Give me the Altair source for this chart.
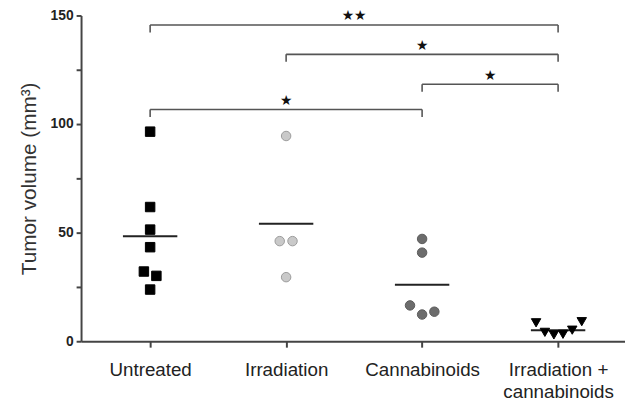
import altair as alt
import pandas as pd

# ---- data ----
categories = ["Untreated", "Irradiation", "Cannabinoids", "Irradiation + cannabinoids"]
label_lines = [["Untreated"], ["Irradiation"], ["Cannabinoids"], ["Irradiation +", "cannabinoids"]]

untreated = [96.5, 61.8, 51.4, 43.3, 32.1, 30.1, 23.8]
untreated_jitter = [0, 0, 0, 0, -0.046, 0.046, 0]
irradiation = [94.5, 46.1, 46.1, 29.5]
irradiation_jitter = [0, -0.047, 0.047, 0]
cannabinoids = [47.1, 40.8, 16.5, 12.3, 13.6]
cannabinoids_jitter = [0, 0, -0.089, 0, 0.09]
combined = [8.5, 4.1, 2.9, 3.2, 5.1, 9.0]
combined_jitter = [-0.162, -0.097, -0.031, 0.036, 0.104, 0.174]

means = [48.3, 54.1, 26.0, 5.1]

bracket_start = [0, 1, 2, 0]
bracket_end = [3, 3, 3, 2]
bracket_height = [145.6, 132.1, 118.3, 106.7]
bracket_label = ["★★", "★", "★", "★"]

y_ticks = [0, 25, 50, 75, 100, 125, 150]

# ---- tables ----
rows = []
for i, (vals, jit) in enumerate([(untreated, untreated_jitter), (irradiation, irradiation_jitter),
                                 (cannabinoids, cannabinoids_jitter), (combined, combined_jitter)]):
    for v, j in zip(vals, jit):
        rows.append({"group": categories[i], "pos": i + j, "volume": v})
points = pd.DataFrame(rows)

mean_df = pd.DataFrame({
    "group": categories,
    "x1": [i - 0.2 for i in range(4)],
    "x2": [i + 0.2 for i in range(4)],
    "mean": means,
})

br = pd.DataFrame({
    "x1": bracket_start, "x2": bracket_end, "h": bracket_height,
    "h_low": [h - 3.4 for h in bracket_height],
    "h_text": [h + 3.9 for h in bracket_height],
    "mid": [(a + b) / 2 for a, b in zip(bracket_start, bracket_end)],
    "label": bracket_label,
})
br_ticks = pd.DataFrame({
    "x": bracket_start + bracket_end,
    "h": bracket_height + bracket_height,
    "h_low": [h - 3.4 for h in bracket_height] * 2,
})

# ---- axes & scales ----
expr_parts = []
for i, lines in enumerate(label_lines):
    arr = "[" + ",".join("'" + s + "'" for s in lines) + "]"
    expr_parts.append(f"datum.value == {i} ? {arr} : ")
label_expr = "".join(expr_parts) + "''"

x_scale = alt.Scale(domain=[-0.508, 3.492], nice=False, zero=False)
y_scale = alt.Scale(domain=[0, 150], nice=False)

x_axis = alt.Axis(values=[0, 1, 2, 3], labelExpr=label_expr, title=None, grid=False,
                  tickSize=6, labelFontSize=19, labelPadding=14, labelLineHeight=22,
                  labelColor="#222", labelFont="Liberation Sans")
y_axis = alt.Axis(values=y_ticks, labelExpr="datum.value % 50 == 0 ? datum.label : ''",
                  title="Tumor volume (mm³)", grid=False, tickSize=5,
                  labelFontSize=14, labelFontWeight="bold", labelColor="#222",
                  labelFont="Liberation Sans", labelPadding=3,
                  titleFontSize=21, titleFontWeight="normal", titleColor="#333",
                  titleFont="Liberation Sans", titlePadding=11)

pts = alt.Chart(points).mark_point(filled=True, size=92, opacity=1, strokeWidth=1).encode(
    x=alt.X("pos:Q", scale=x_scale, axis=x_axis),
    y=alt.Y("volume:Q", scale=y_scale, axis=y_axis),
    shape=alt.Shape("group:N", scale=alt.Scale(domain=categories,
                    range=["square", "circle", "circle", "triangle-down"]), legend=None),
    fill=alt.Fill("group:N", scale=alt.Scale(domain=categories,
                  range=["#000000", "#c9c9c9", "#6c6c6c", "#000000"]), legend=None),
    stroke=alt.Stroke("group:N", scale=alt.Scale(domain=categories,
                      range=["#000000", "#9a9a9a", "#5a5a5a", "#000000"]), legend=None),
)

mean_rules = alt.Chart(mean_df).mark_rule(color="#222", strokeWidth=2).encode(
    x=alt.X("x1:Q", scale=x_scale, axis=x_axis),
    x2="x2:Q",
    y=alt.Y("mean:Q", scale=y_scale, axis=y_axis),
)

br_h = alt.Chart(br).mark_rule(color="#555", strokeWidth=1.6).encode(
    x=alt.X("x1:Q", scale=x_scale, axis=x_axis),
    x2="x2:Q",
    y=alt.Y("h:Q", scale=y_scale, axis=y_axis),
)
br_v = alt.Chart(br_ticks).mark_rule(color="#555", strokeWidth=1.6).encode(
    x=alt.X("x:Q", scale=x_scale, axis=x_axis),
    y=alt.Y("h:Q", scale=y_scale, axis=y_axis),
    y2="h_low:Q",
)
br_t = alt.Chart(br).mark_text(fontSize=14, font="DejaVu Sans", color="#111",
                               baseline="middle", clip=False).encode(
    x=alt.X("mid:Q", scale=x_scale, axis=x_axis),
    y=alt.Y("h_text:Q", scale=y_scale, axis=y_axis),
    text="label:N",
)

chart = alt.layer(br_h, br_v, br_t, mean_rules, pts).properties(
    width=551, height=330,
    autosize=alt.AutoSizeParams(type="none"),
    padding={"left": 74, "top": 5, "right": 0, "bottom": 60},
).configure_view(stroke=None).configure_axis(
    domainColor="#444", domainWidth=2, tickColor="#444", tickWidth=2
)

chart.save("out.html", embed_options={"renderer": "svg", "actions": False})
